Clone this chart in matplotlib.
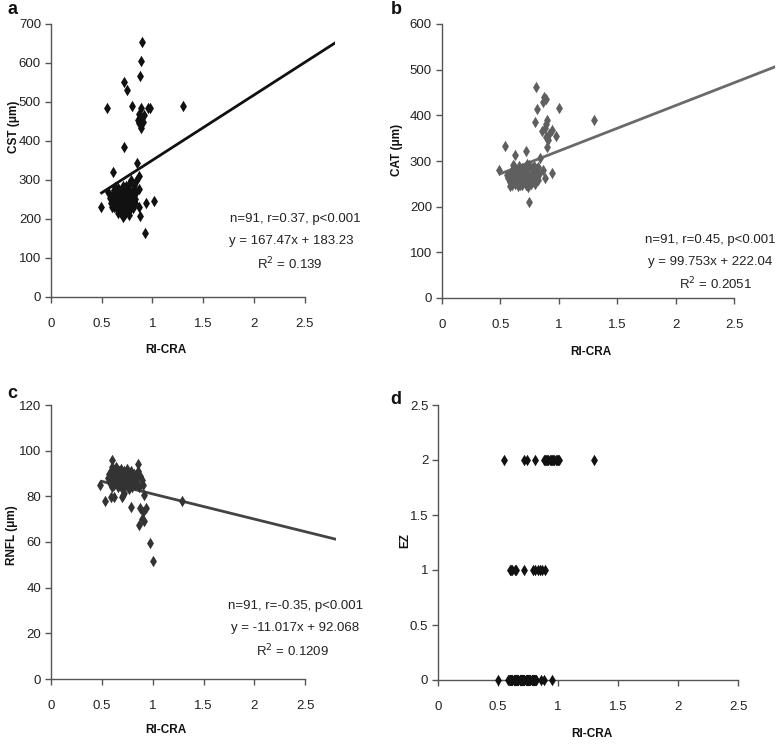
import matplotlib
matplotlib.use("Agg")
import matplotlib.pyplot as plt
import numpy as np

# ---------------- data ----------------
ri_a = [0.895, 0.884, 0.878, 0.72, 0.746, 0.55, 0.80, 0.89, 0.96, 0.98, 1.30,
        0.87, 0.88, 0.90, 0.89, 0.92, 0.86, 0.91, 0.87,
        0.884, 0.72, 0.85, 0.61, 0.87, 0.87, 0.495, 0.94, 1.016, 0.87, 0.88, 0.71, 0.93, 0.60,
        0.56, 0.58, 0.59, 0.60, 0.61, 0.62, 0.62, 0.63, 0.64, 0.64, 0.65, 0.65, 0.66, 0.66,
        0.67, 0.67, 0.68, 0.68, 0.69, 0.69, 0.70, 0.70, 0.71, 0.71, 0.72, 0.72, 0.73, 0.73,
        0.74, 0.74, 0.75, 0.75, 0.76, 0.76, 0.77, 0.77, 0.78, 0.78, 0.79, 0.79, 0.80, 0.80,
        0.81, 0.81, 0.82, 0.82, 0.83, 0.83, 0.84, 0.84, 0.66, 0.70, 0.74, 0.63, 0.77]
cst = [655, 606, 566, 552, 531, 485, 490, 485, 485, 485, 491,
       470, 462, 458, 452, 466, 455, 448, 445,
       434, 385, 344, 320, 311, 277, 232, 240, 246, 232, 208, 204, 165, 232,
       270, 255, 240, 262, 248, 275, 230, 258, 242, 268, 225, 252, 280, 236,
       260, 245, 218, 270, 252, 232, 262, 240, 285, 222, 255, 268, 238, 212,
       258, 248, 275, 230, 262, 244, 290, 220, 268, 250, 236, 300, 258, 272,
       245, 228, 285, 262, 250, 240, 298, 270, 215, 275, 285, 282, 210]

ri_b = [0.81, 0.875, 0.89, 0.87, 0.817, 1.00, 0.80, 0.90, 0.89, 0.857, 0.94, 0.89, 0.91,
        0.977, 0.90, 0.54, 0.63, 0.72, 0.84, 0.49, 0.863, 0.94, 0.883, 0.75, 1.30, 0.92, 0.88,
        0.56, 0.57, 0.58, 0.59, 0.60, 0.60, 0.61, 0.62, 0.62, 0.63, 0.63, 0.64, 0.64, 0.65,
        0.65, 0.66, 0.66, 0.67, 0.67, 0.68, 0.68, 0.69, 0.69, 0.70, 0.70, 0.71, 0.71, 0.72,
        0.72, 0.73, 0.73, 0.74, 0.74, 0.75, 0.75, 0.76, 0.76, 0.77, 0.77, 0.78, 0.78, 0.79,
        0.79, 0.80, 0.80, 0.81, 0.81, 0.82, 0.82, 0.83, 0.58, 0.61, 0.64, 0.67, 0.70, 0.73,
        0.76, 0.79, 0.66, 0.72, 0.78, 0.62, 0.69, 0.75]
cat = [463, 441, 435, 430, 413, 415, 385, 390, 382, 366, 368, 352, 346,
       355, 331, 333, 313, 322, 306, 280, 280, 273, 262, 211, 390, 360, 372,
       270, 262, 255, 275, 248, 266, 280, 258, 272, 250, 285, 262, 275, 246,
       268, 290, 256, 270, 252, 278, 262, 248, 285, 270, 256, 274, 262, 288,
       252, 266, 280, 258, 244, 292, 270, 262, 250, 284, 268, 276, 256, 290,
       262, 270, 250, 282, 264, 258, 286, 272, 245, 292, 260, 247, 282, 294,
       255, 266, 278, 248, 260, 288, 272, 258]

ri_c = [0.597, 0.855, 0.48, 0.53, 0.587, 0.62, 0.71, 0.79, 0.91, 0.88, 0.90, 0.93, 0.89,
        0.866, 0.91, 0.97, 1.006, 1.29, 0.72, 0.70,
        0.56, 0.57, 0.58, 0.59, 0.60, 0.60, 0.61, 0.61, 0.62, 0.62, 0.63, 0.63, 0.64, 0.64,
        0.65, 0.65, 0.66, 0.66, 0.67, 0.67, 0.68, 0.68, 0.69, 0.69, 0.70, 0.70, 0.71, 0.71,
        0.72, 0.72, 0.73, 0.73, 0.74, 0.74, 0.75, 0.75, 0.76, 0.76, 0.77, 0.77, 0.78, 0.78,
        0.79, 0.79, 0.80, 0.80, 0.81, 0.82, 0.83, 0.84, 0.85, 0.86, 0.87, 0.88, 0.89, 0.90,
        0.60, 0.63, 0.66, 0.69, 0.72, 0.75, 0.78, 0.64, 0.68, 0.74, 0.77, 0.61, 0.67, 0.71, 0.73]
rnfl = [96, 94, 85, 78, 79.6, 79.6, 80.6, 75.5, 80.6, 75, 73, 75, 70,
        67.4, 69, 59.4, 51.7, 78, 81.5, 79.5,
        88, 90, 86, 91, 89, 84, 92, 87, 90, 85, 88, 91, 86, 89,
        92, 87, 90, 84, 88, 91, 86, 89, 92, 85, 88, 90, 86, 83,
        89, 91, 87, 85, 90, 88, 86, 92, 84, 89, 87, 90, 85, 88,
        91, 86, 84, 89, 87, 90, 85, 88, 86, 91, 84, 89, 87, 85,
        93, 87, 89, 84, 86, 90, 88, 93, 85, 87, 83, 90, 86, 84, 88]

ri_d = [0.55, 0.72, 0.74, 0.81, 0.88, 0.89, 0.90, 0.91, 0.92, 0.93, 0.94, 0.95, 0.96,
        0.97, 0.98, 0.99, 1.00, 1.01, 1.30,
        0.60, 0.61, 0.62, 0.64, 0.65, 0.72, 0.79, 0.81, 0.83, 0.85, 0.87, 0.89,
        0.50, 0.58, 0.59, 0.60, 0.60, 0.61, 0.61, 0.62, 0.62, 0.63, 0.63, 0.64, 0.64, 0.65,
        0.65, 0.66, 0.66, 0.67, 0.67, 0.68, 0.68, 0.69, 0.69, 0.70, 0.70, 0.71, 0.71, 0.72,
        0.72, 0.73, 0.73, 0.74, 0.74, 0.75, 0.75, 0.76, 0.76, 0.77, 0.77, 0.78, 0.78, 0.79,
        0.79, 0.80, 0.80, 0.81, 0.81, 0.82, 0.82, 0.86, 0.88, 0.95, 0.63, 0.66, 0.69, 0.72,
        0.75, 0.78, 0.70, 0.74]
ez = [2] * 19 + [1] * 12 + [0] * 60

fit_a = (167.47, 183.23)
fit_b = (99.753, 222.04)
fit_c = (-11.017, 92.068)

x_ticks = [0, 0.5, 1, 1.5, 2, 2.5]
x_tick_labels = ["0", "0.5", "1", "1.5", "2", "2.5"]

# ---------------- figure ----------------
W, H = 779, 748
fig = plt.figure(figsize=(W / 100, H / 100), dpi=100)
fig.patch.set_facecolor("white")

NARROW = ["Liberation Sans Narrow", "Liberation Sans", "DejaVu Sans"]
BOLD = ["Liberation Sans", "DejaVu Sans"]


def px_axes(x0, ytop, x1, ybot):
    return fig.add_axes([x0 / W, 1 - ybot / H, (x1 - x0) / W, (ybot - ytop) / H])


def style(ax, xmax, ymax, yticks, ylabels):
    ax.set_xlim(0, xmax)
    ax.set_ylim(0, ymax)
    for s in ("top", "right"):
        ax.spines[s].set_visible(False)
    for s in ("left", "bottom"):
        ax.spines[s].set_color("#555555")
        ax.spines[s].set_linewidth(1.0)
    ax.spines["bottom"].set_bounds(0, 2.5)
    ax.set_xticks(x_ticks)
    ax.set_xticklabels(x_tick_labels)
    ax.set_yticks(yticks)
    ax.set_yticklabels(ylabels)
    ax.tick_params(axis="x", direction="out", length=4, width=1, color="#555555", pad=11,
                   labelsize=9.5)
    ax.tick_params(axis="y", direction="out", length=4, width=1, color="#555555", pad=3,
                   labelsize=9.5)
    for lab in ax.get_xticklabels() + ax.get_yticklabels():
        lab.set_family(NARROW)
        lab.set_color("#222222")
    ax.set_facecolor("none")


def ftext(xp, yp, s, **kw):
    fig.text(xp / W, 1 - yp / H, s, **kw)


ms = 34

# panel a
axa = px_axes(50.7, 24, 50.7 + 101.7 * 2.8, 297)
style(axa, 2.8, 700, range(0, 701, 100), [str(v) for v in range(0, 701, 100)])
axa.scatter(ri_a, cst, marker="d", s=ms, color="#111111", linewidths=0, zorder=3)
xx = np.array([0.5, 2.8])
axa.plot(xx, fit_a[0] * xx + fit_a[1], color="#111111", lw=2.0, zorder=2)

# panel b
axb = px_axes(441.7, 24, 441.7 + 117 * 2.85, 298)
style(axb, 2.85, 600, range(0, 601, 100), [str(v) for v in range(0, 601, 100)])
axb.scatter(ri_b, cat, marker="d", s=ms, color="#5f5f5f", linewidths=0, zorder=3)
xx = np.array([0.5, 2.85])
axb.plot(xx, fit_b[0] * xx + fit_b[1], color="#6a6a6a", lw=2.0, zorder=2)

# panel c
axc = px_axes(51, 405, 51 + 101.7 * 2.8, 679)
style(axc, 2.8, 120, range(0, 121, 20), [str(v) for v in range(0, 121, 20)])
axc.scatter(ri_c, rnfl, marker="d", s=ms, color="#333333", linewidths=0, zorder=3)
xx = np.array([0.5, 2.8])
axc.plot(xx, fit_c[0] * xx + fit_c[1], color="#444444", lw=2.0, zorder=2)

# panel d
axd = px_axes(438, 405, 738, 680)
style(axd, 2.5, 2.5, [0, 0.5, 1, 1.5, 2, 2.5], ["0", "0.5", "1", "1.5", "2", "2.5"])
axd.scatter(ri_d, ez, marker="d", s=ms, color="#111111", linewidths=0, zorder=3, clip_on=False)

# axis labels
lab_kw = dict(family=BOLD, fontweight="bold", fontsize=8.5, color="#111111")
ftext(14, 127, "CST (μm)", rotation=90, ha="center", va="center", **lab_kw)
ftext(397, 150, "CAT (μm)", rotation=90, ha="center", va="center", **lab_kw)
ftext(12, 535, "RNFL (μm)", rotation=90, ha="center", va="center", **lab_kw)
ftext(405, 540, "EZ", rotation=90, ha="center", va="center", **lab_kw)
ftext(166, 350, "RI-CRA", ha="center", va="center", **lab_kw)
ftext(591, 352, "RI-CRA", ha="center", va="center", **lab_kw)
ftext(166, 730, "RI-CRA", ha="center", va="center", **lab_kw)
ftext(592, 734, "RI-CRA", ha="center", va="center", **lab_kw)

# panel letters
let_kw = dict(family=BOLD, fontweight="bold", fontsize=13, color="#111111",
              ha="center", va="center")
ftext(12, 10, "a", **let_kw)
ftext(396, 10, "b", **let_kw)
ftext(12, 394, "c", **let_kw)
ftext(396, 400, "d", **let_kw)

# annotations
ann_kw = dict(family=NARROW, fontsize=9.5, color="#222222", ha="center", va="center")
ftext(295, 219, "n=91, r=0.37, p<0.001", **ann_kw)
ftext(291, 241, "y = 167.47x + 183.23", **ann_kw)
ftext(290, 264, "R$^{2}$ = 0.139", **ann_kw)
ftext(710, 240, "n=91, r=0.45, p<0.001", **ann_kw)
ftext(710, 262, "y = 99.753x + 222.04", **ann_kw)
ftext(716, 284, "R$^{2}$ = 0.2051", **ann_kw)
ftext(296, 606, "n=91, r=-0.35, p<0.001", **ann_kw)
ftext(295, 628, "y = -11.017x + 92.068", **ann_kw)
ftext(292, 651, "R$^{2}$ = 0.1209", **ann_kw)

fig.savefig("out.png", dpi=100, facecolor="white")
